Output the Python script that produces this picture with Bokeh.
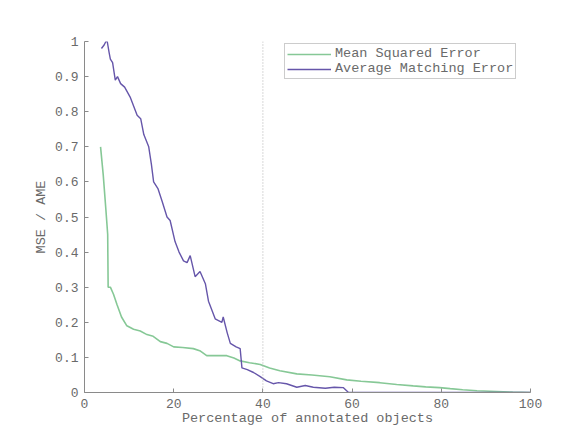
from bokeh.plotting import figure
from bokeh.models import Span, Legend, LegendItem, FixedTicker
from bokeh.embed import file_html
from bokeh.resources import INLINE

# Mean Squared Error curve
mse_x = [3.6, 4.2, 4.8, 5.2, 5.3, 5.8, 6.5, 7.3, 8.3, 9.5, 11.0, 12.5, 14.0, 15.4, 17.0,
         18.5, 20.0, 22.0, 24.4, 26.0, 27.4, 29.5, 31.9, 33.5, 34.9, 37.0, 39.4, 41.5,
         43.8, 47.6, 51.0, 55.0, 58.8, 62.0, 66.2, 70.0, 73.7, 76.5, 79.6, 82.0, 84.8,
         88.0, 92.4, 96.0, 100.0]
mse_y = [0.70, 0.62, 0.52, 0.45, 0.30, 0.30, 0.28, 0.25, 0.215, 0.19, 0.18, 0.175, 0.165,
         0.16, 0.145, 0.14, 0.13, 0.128, 0.125, 0.118, 0.105, 0.105, 0.105, 0.098, 0.09,
         0.085, 0.08, 0.07, 0.062, 0.053, 0.05, 0.045, 0.036, 0.032, 0.028, 0.023, 0.019,
         0.016, 0.014, 0.011, 0.008, 0.005, 0.003, 0.001, 0.0]

# Average Matching Error curve
ame_x = [3.8, 4.4, 4.8, 5.1, 5.5, 5.8, 6.3, 6.9, 7.4, 8.1, 9.0, 10.3, 11.2, 11.8, 12.6,
         13.3, 14.4, 15.0, 15.5, 16.5, 17.4, 18.5, 19.2, 20.3, 21.2, 22.2, 23.0, 23.7,
         24.8, 25.9, 27.1, 27.8, 29.3, 30.8, 31.1, 32.0, 32.7, 34.0, 34.9, 35.3, 36.5,
         37.9, 39.4, 40.8, 42.3, 43.5, 45.3, 47.6, 49.5, 51.3, 54.0, 56.0, 58.0, 59.2,
         70.0, 85.0, 100.0]
ame_y = [0.98, 0.99, 1.0, 1.0, 0.97, 0.95, 0.94, 0.89, 0.90, 0.88, 0.87, 0.84, 0.81,
         0.79, 0.78, 0.735, 0.70, 0.65, 0.60, 0.58, 0.545, 0.50, 0.49, 0.43, 0.40, 0.375,
         0.37, 0.39, 0.33, 0.345, 0.31, 0.26, 0.21, 0.20, 0.215, 0.17, 0.14, 0.13, 0.125,
         0.07, 0.065, 0.057, 0.045, 0.033, 0.025, 0.028, 0.025, 0.015, 0.02, 0.015, 0.012,
         0.015, 0.014, 0.0, 0.0, 0.0, 0.0]

x_ticks = [0, 20, 40, 60, 80, 100]
y_ticks = [0, 0.1, 0.2, 0.3, 0.4, 0.5, 0.6, 0.7, 0.8, 0.9, 1]
y_tick_labels = {0: "0", 0.1: "0.1", 0.2: "0.2", 0.3: "0.3", 0.4: "0.4", 0.5: "0.5",
                 0.6: "0.6", 0.7: "0.7", 0.8: "0.8", 0.9: "0.9", 1: "1"}
marker_x = 40

FONT = "Liberation Mono"
TXT = "#6a6a6a"
AX = "#8a8a8a"
GREEN = "#86c896"
PURPLE = "#6656aa"

p = figure(width=576, height=429, output_backend="svg", toolbar_location=None,
           x_range=(0, 100), y_range=(0, 1),
           min_border_left=84, min_border_right=46, min_border_top=41, min_border_bottom=37)
p.background_fill_color = "white"
p.border_fill_color = "white"
p.outline_line_color = None
p.grid.grid_line_color = None

r_mse = p.line(mse_x, mse_y, line_color=GREEN, line_width=1.6)
r_ame = p.line(ame_x, ame_y, line_color=PURPLE, line_width=1.4)

p.add_layout(Span(location=marker_x, dimension="height", line_color="#b0b0b0",
                  line_dash="1 2", line_width=1))

for ax in (p.xaxis[0], p.yaxis[0]):
    ax.axis_line_color = AX
    ax.major_tick_line_color = AX
    ax.major_tick_in = 4
    ax.major_tick_out = 0
    ax.minor_tick_line_color = None
    ax.major_label_text_font = FONT
    ax.major_label_text_font_size = "13px"
    ax.major_label_text_color = TXT
    ax.axis_label_text_font = FONT
    ax.axis_label_text_font_size = "13.5px"
    ax.axis_label_text_font_style = "normal"
    ax.axis_label_text_color = TXT

p.xaxis.ticker = FixedTicker(ticks=x_ticks)
p.yaxis.ticker = FixedTicker(ticks=y_ticks)
p.yaxis.major_label_overrides = y_tick_labels
p.xaxis.axis_label = "Percentage of annotated objects"
p.yaxis.axis_label = "MSE / AME"
p.xaxis.major_label_standoff = 6
p.xaxis.axis_label_standoff = 0
p.yaxis.major_label_standoff = 6
p.yaxis.axis_label_standoff = 3

legend = Legend(items=[LegendItem(label="Mean Squared Error", renderers=[r_mse]),
                       LegendItem(label="Average Matching Error", renderers=[r_ame])],
                location=(200, 313))
legend.label_text_font = FONT
legend.label_text_font_size = "13.5px"
legend.label_text_color = TXT
legend.glyph_width = 44
legend.glyph_height = 14
legend.label_height = 14
legend.label_standoff = 4
legend.spacing = 0
legend.padding = 2
legend.margin = 0
legend.border_line_color = "#999999"
legend.border_line_width = 1
legend.background_fill_alpha = 1
p.add_layout(legend)

open("out.html", "w").write(file_html(p, INLINE))
